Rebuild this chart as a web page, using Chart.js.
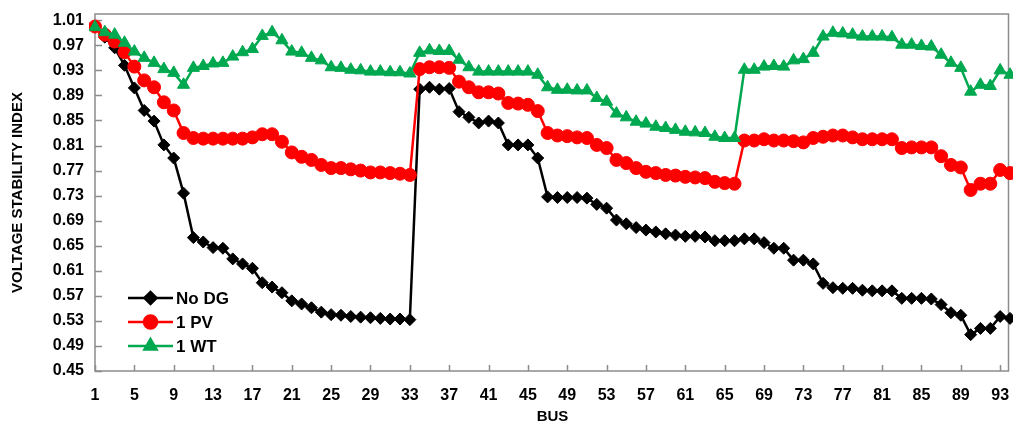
<!DOCTYPE html>
<html>
<head>
<meta charset="utf-8">
<script src="https://cdn.jsdelivr.net/npm/chart.js@4.4.1/dist/chart.umd.min.js"></script>
<style>
  html, body { margin: 0; padding: 0; background: #fff; overflow: hidden; }
  #wrap { width: 1013px; height: 427px; overflow: hidden; }
</style>
</head>
<body>
<!-- canvas is a few px wider than the page: Chart.js keeps a small right gap we don't want -->
<div id="wrap"><canvas id="chart" width="1018" height="427"></canvas></div>
<script>
// bus numbers 1..94
const buses = [];
for (let i = 1; i <= 94; i++) buses.push(String(i));

const yTicks = [0.45, 0.49, 0.53, 0.57, 0.61, 0.65, 0.69, 0.73, 0.77, 0.81, 0.85, 0.89, 0.93, 0.97, 1.01];

const noDG = [
  1.000, 0.983, 0.966, 0.938, 0.902, 0.866, 0.849, 0.811, 0.790, 0.734,
  0.663, 0.656, 0.647, 0.646, 0.629, 0.621, 0.614, 0.591, 0.584, 0.575,
  0.562, 0.557, 0.551, 0.544, 0.540, 0.539, 0.537, 0.536, 0.535, 0.534,
  0.533, 0.533, 0.532, 0.900, 0.903, 0.900, 0.901, 0.864, 0.855, 0.846,
  0.849, 0.846, 0.811, 0.811, 0.811, 0.790, 0.728, 0.727, 0.727, 0.727,
  0.726, 0.716, 0.710, 0.691, 0.685, 0.679, 0.675, 0.672, 0.669, 0.667,
  0.665, 0.665, 0.664, 0.658, 0.658, 0.658, 0.661, 0.661, 0.655, 0.646,
  0.646, 0.627, 0.627, 0.621, 0.590, 0.583, 0.582, 0.582, 0.579, 0.578,
  0.578, 0.578, 0.566, 0.566, 0.566, 0.565, 0.556, 0.543, 0.539, 0.508,
  0.518, 0.518, 0.537, 0.534
];

const onePV = [
  1.000, 0.987, 0.976, 0.959, 0.936, 0.914, 0.903, 0.879, 0.866, 0.830,
  0.822, 0.821, 0.821, 0.821, 0.821, 0.821, 0.823, 0.828, 0.828, 0.816,
  0.799, 0.792, 0.787, 0.779, 0.774, 0.774, 0.772, 0.770, 0.767, 0.767,
  0.766, 0.765, 0.763, 0.932, 0.935, 0.935, 0.934, 0.912, 0.903, 0.895,
  0.895, 0.893, 0.878, 0.877, 0.875, 0.865, 0.830, 0.826, 0.825, 0.823,
  0.822, 0.811, 0.806, 0.787, 0.782, 0.774, 0.768, 0.766, 0.763, 0.762,
  0.760, 0.759, 0.758, 0.752, 0.750, 0.749, 0.818, 0.818, 0.820, 0.818,
  0.818, 0.817, 0.815, 0.822, 0.824, 0.826, 0.826, 0.823, 0.820, 0.820,
  0.820, 0.820, 0.806, 0.807, 0.807, 0.807, 0.793, 0.779, 0.775, 0.739,
  0.749, 0.749, 0.771, 0.766
];

const oneWT = [
  0.999, 0.991, 0.987, 0.974, 0.960, 0.950, 0.942, 0.932, 0.926, 0.907,
  0.934, 0.937, 0.941, 0.942, 0.952, 0.959, 0.964, 0.985, 0.991, 0.978,
  0.960, 0.958, 0.950, 0.946, 0.935, 0.934, 0.931, 0.930, 0.928, 0.928,
  0.927, 0.927, 0.925, 0.958, 0.962, 0.961, 0.961, 0.947, 0.935, 0.928,
  0.928, 0.928, 0.928, 0.928, 0.928, 0.923, 0.903, 0.899, 0.899, 0.898,
  0.898, 0.886, 0.880, 0.861, 0.855, 0.848, 0.845, 0.840, 0.838, 0.835,
  0.832, 0.831, 0.830, 0.824, 0.822, 0.822, 0.931, 0.931, 0.936, 0.937,
  0.936, 0.946, 0.948, 0.958, 0.984, 0.990, 0.989, 0.987, 0.984, 0.984,
  0.984, 0.983, 0.971, 0.971, 0.969, 0.968, 0.955, 0.942, 0.934, 0.896,
  0.907, 0.905, 0.930, 0.923
];

const seriesNames = ['No DG', '1 PV', '1 WT'];

Chart.defaults.font.family = "'Liberation Sans', Arial, sans-serif";
Chart.defaults.color = '#000';

const narrow = "'Liberation Sans Narrow', 'Liberation Sans', Arial, sans-serif";
const frameColor = '#8c8c8c';

// box around the plot, short inward tick marks, legend inside the plot
const framePlugin = {
  id: 'frame',
  beforeDatasetsDraw(chart) {
    const { ctx, chartArea: a, scales } = chart;
    ctx.save();
    ctx.strokeStyle = frameColor;
    ctx.lineWidth = 1.5;
    ctx.strokeRect(a.left, a.top, a.right - a.left - 1.5, a.bottom - a.top);
    ctx.beginPath();
    scales.y.ticks.forEach(t => {
      const y = Math.round(scales.y.getPixelForValue(t.value)) + 0.5;
      ctx.moveTo(a.left, y);
      ctx.lineTo(a.left + 7, y);
    });
    scales.x.ticks.forEach((t, i) => {
      if (i % 4 !== 0) return;
      const x = Math.round(scales.x.getPixelForTick(i)) + 0.5;
      ctx.moveTo(x, a.bottom);
      ctx.lineTo(x, a.bottom - 6);
    });
    ctx.stroke();
    ctx.restore();
  },
  afterDatasetsDraw(chart) {
    const ctx = chart.ctx;
    const x0 = 128, x1 = 173, y0 = 298, gap = 24;
    ctx.save();
    chart.data.datasets.forEach((ds, i) => {
      const y = y0 + i * gap;
      ctx.strokeStyle = ds.borderColor;
      ctx.lineWidth = ds.borderWidth;
      ctx.beginPath();
      ctx.moveTo(x0, y);
      ctx.lineTo(x1, y);
      ctx.stroke();
      ctx.fillStyle = ds.pointBackgroundColor;
      ctx.strokeStyle = ds.pointBorderColor;
      Chart.helpers.drawPoint(ctx, {
        pointStyle: ds.pointStyle, radius: ds.pointRadius, rotation: 0, borderWidth: 1
      }, (x0 + x1) / 2, y);
      ctx.fillStyle = '#000';
      ctx.font = "bold 17px 'Liberation Sans', Arial, sans-serif";
      ctx.textBaseline = 'middle';
      ctx.fillText(ds.label, x1 + 3, y + 1);
    });
    ctx.restore();
  }
};

function series(label, data, color, style, radius, order) {
  return {
    label, data, order,
    borderColor: color,
    borderWidth: 2.5,
    pointStyle: style,
    pointRadius: radius,
    pointBackgroundColor: color,
    pointBorderColor: color,
    pointBorderWidth: 1,
    tension: 0,
    clip: 6
  };
}

new Chart(document.getElementById('chart'), {
  type: 'line',
  data: {
    labels: buses,
    datasets: [
      series(seriesNames[0], noDG, '#000000', 'rectRot', 6, 2),
      series(seriesNames[1], onePV, '#ff0000', 'circle', 6.5, 1),
      series(seriesNames[2], oneWT, '#00a84f', 'triangle', 7, 0)
    ]
  },
  options: {
    responsive: false,
    animation: false,
    layout: { padding: { top: 14, right: 0, left: 0, bottom: 0 } },
    plugins: { legend: { display: false }, tooltip: { enabled: false } },
    scales: {
      x: {
        offset: false,
        grid: { display: false, drawTicks: false },
        border: { display: false },
        ticks: {
          autoSkip: false, maxRotation: 0, padding: 15,
          font: { size: 16, weight: 'bold', family: narrow },
          callback: (v, i) => (i % 4 === 0 ? buses[i] : '')
        },
        title: {
          display: true, text: 'BUS',
          font: { size: 15, weight: 'bold', family: narrow },
          padding: { top: 0, bottom: 1 }
        },
        afterFit: s => { s.height = 56; s.paddingLeft = 0; s.paddingRight = 0; }
      },
      y: {
        min: 0.45, max: 1.02,
        grid: { display: false, drawTicks: false },
        border: { display: false },
        afterBuildTicks: s => { s.ticks = yTicks.map(v => ({ value: v })); },
        ticks: {
          padding: 11,
          font: { size: 16, weight: 'bold' },
          callback: v => Number(v).toFixed(2)
        },
        title: {
          display: true, text: 'VOLTAGE STABILITY INDEX',
          font: { size: 15, weight: 'bold', family: narrow },
          padding: { top: 9, bottom: 0 }
        },
        afterFit: s => { s.width = 95; s.paddingTop = 0; s.paddingBottom = 0; }
      }
    }
  },
  plugins: [framePlugin]
});
</script>
</body>
</html>
